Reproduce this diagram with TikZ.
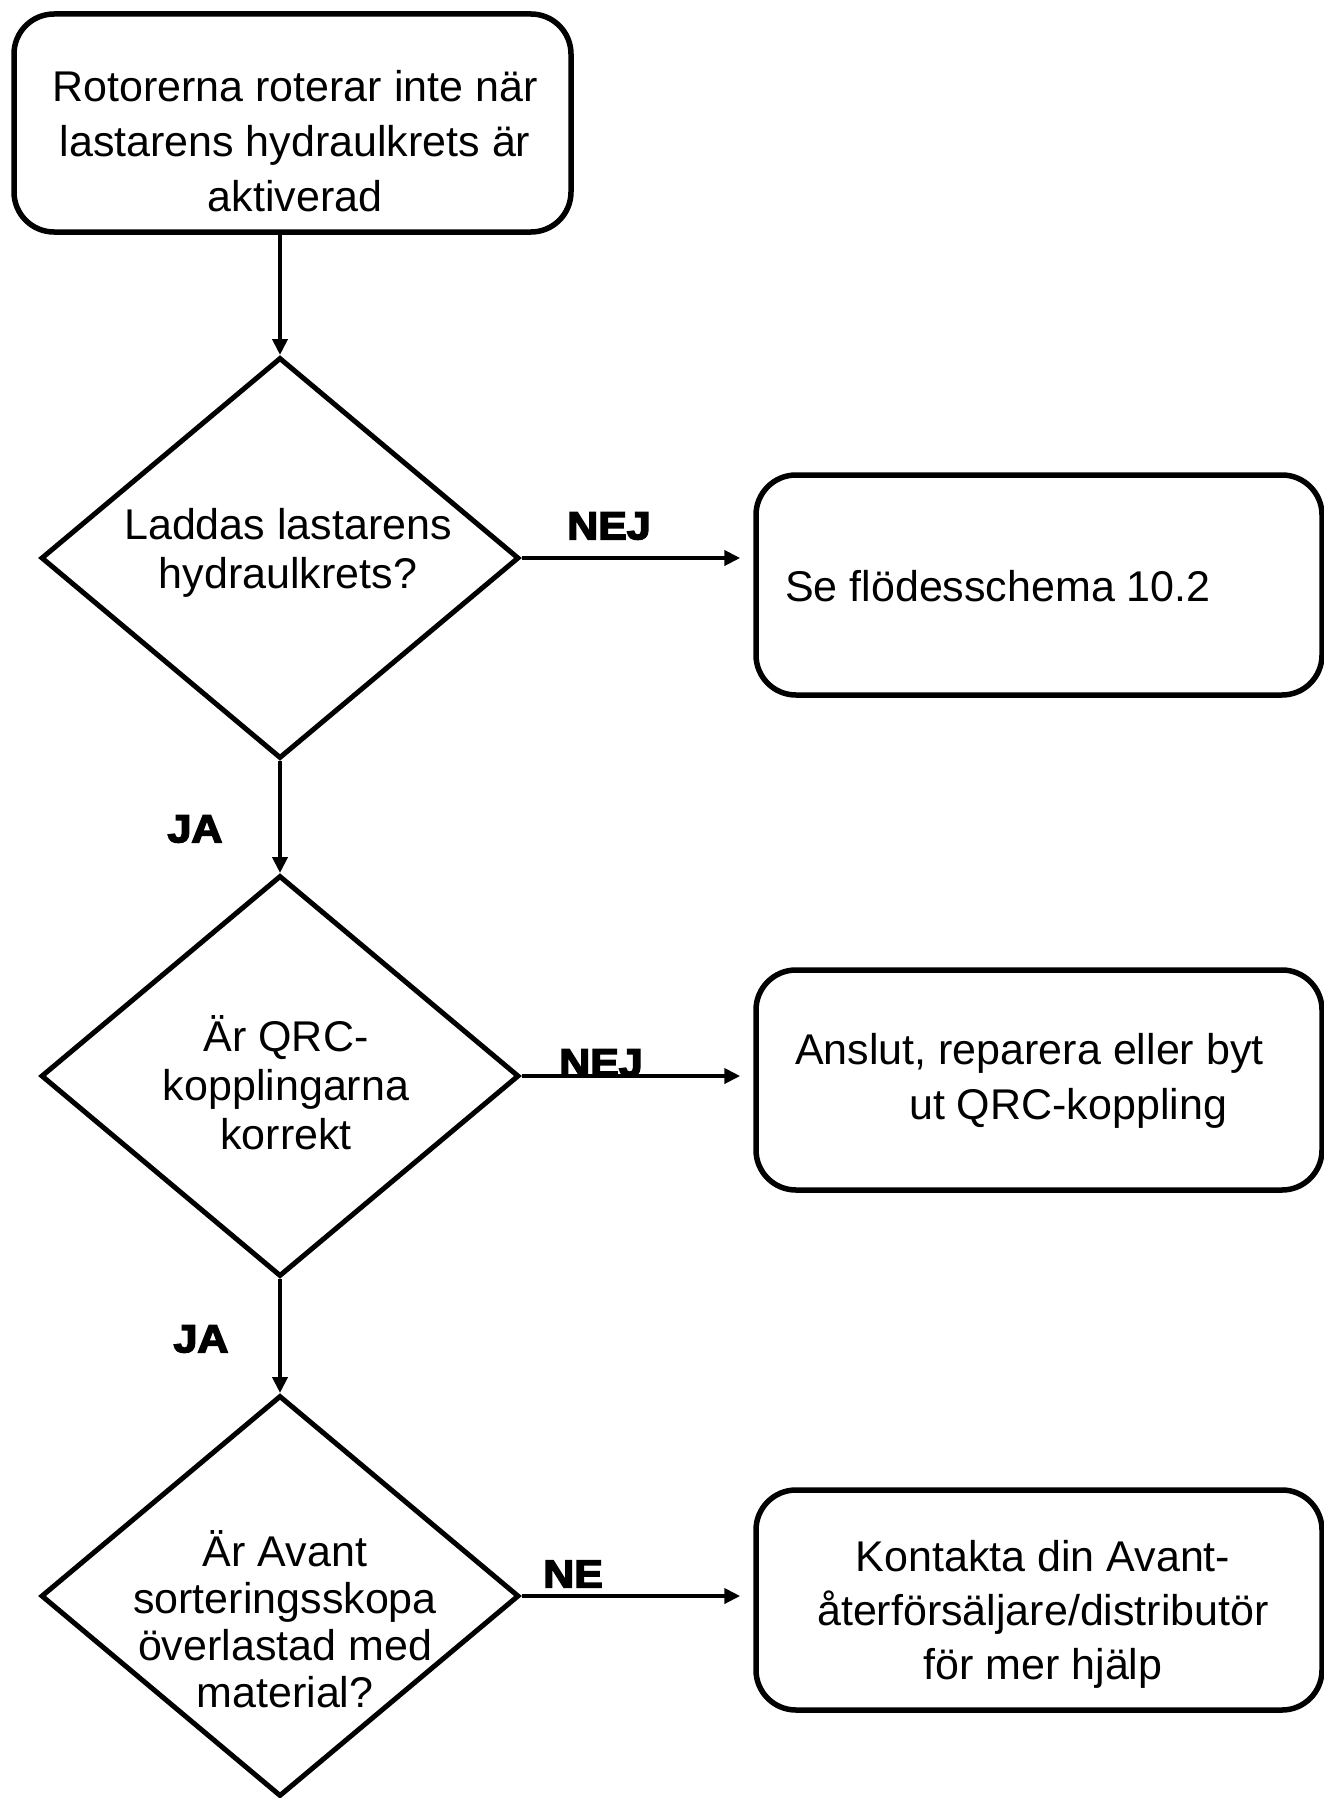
\documentclass[tikz,border=0pt]{standalone}
\usepackage{fontspec}
\setmainfont{Liberation Sans}
\newfontfamily\lblfont{Liberation Sans Bold}[FakeStretch=1.1,FakeBold=4]
\usetikzlibrary{shapes.geometric,arrows.meta}
\begin{document}
\begin{tikzpicture}[x=1pt,y=-1pt,
  box/.style={draw, line width=5.5pt, rounded corners=40pt, minimum width=566pt, minimum height=220pt, inner sep=0pt},
  dia/.style={draw, shape=diamond, line width=5pt, minimum width=478pt, minimum height=401pt, inner sep=0pt},
  txt/.style={font=\fontsize{43}{55}\selectfont, align=center, inner sep=0pt},
  dtxt/.style={font=\fontsize{43}{49}\selectfont, align=center, inner sep=0pt},
  lbl/.style={font=\lblfont\fontsize{39}{39}\selectfont, inner sep=0pt},
  arr/.style={line width=4pt, -{Triangle[length=16pt,width=15pt]}}
]
\useasboundingbox (0,0) rectangle (1324,1798);

% boxes
\node[box, minimum width=557pt, minimum height=218pt] (b1) at (292.5,123) {};
\node[box] (b2) at (1039,585) {};
\node[box] (b3) at (1039,1080) {};
\node[box] (b4) at (1039,1600) {};

% diamonds
\node[dia] (d1) at (280,558) {};
\node[dia] (d2) at (280,1076) {};
\node[dia] (d3) at (280,1596) {};

% texts
\node[txt] (t1) at (295,141) {Rotorerna roterar inte när\\lastarens hydraulkrets är\\aktiverad};
\node[txt, anchor=west] (t2) at (785,586) {Se flödesschema 10.2};
\node[txt, anchor=west, align=left] (t3) at (795,1081) {Anslut, reparera eller byt\\\hspace*{114pt}ut QRC-koppling};
\node[txt, font=\fontsize{43}{54}\selectfont] (t4) at (1043,1614) {Kontakta din Avant-\\återförsäljare/distributör\\för mer hjälp};
\node[dtxt] (td1) at (288,553) {Laddas lastarens\\hydraulkrets?};
\node[dtxt] (td2) at (286,1083) {Är QRC-\\kopplingarna\\korrekt};
\node[dtxt, font=\fontsize{43}{47}\selectfont] (td3) at (285,1619) {Är Avant\\sorteringsskopa\\överlastad med\\material?};

% labels
\node[lbl] (l1) at (609,526) {NEJ};
\node[lbl] (l2) at (601,1063) {NEJ};
\node[lbl] (l3) at (573,1574) {NE};
\node[lbl] (j1) at (195,829) {JA};
\node[lbl] (j2) at (201,1339) {JA};

% connectors
\draw[arr] (b1.south -| d1.north) -- (d1.north);
\draw[arr] (d1.south) -- (d2.north);
\draw[arr] (d2.south) -- (d3.north);
\draw[arr, shorten >=13pt] (d1.east) -- (d1.east -| b2.west);
\draw[arr, shorten >=13pt] (d2.east) -- (d2.east -| b3.west);
\draw[arr, shorten >=13pt] (d3.east) -- (d3.east -| b4.west);
\end{tikzpicture}
\end{document}
